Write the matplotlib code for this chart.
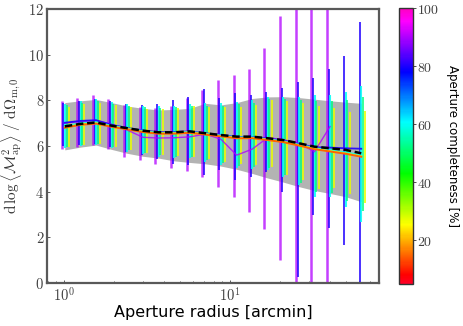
import numpy as np
import matplotlib
matplotlib.use("Agg")
import matplotlib.pyplot as plt
from matplotlib.colors import Normalize
from matplotlib.cm import ScalarMappable
from matplotlib.ticker import FixedLocator, FuncFormatter, LogLocator, NullFormatter

plt.rcParams['mathtext.fontset'] = 'cm'
plt.rcParams['font.family'] = ['DejaVu Sans']

nan = np.nan
# aperture radii (arcmin) of each group of measurements
radii = [0.968, 1.202, 1.492, 1.853, 2.30, 2.86, 3.55, 4.40, 5.47, 6.79,
         8.43, 10.5, 13.0, 16.1, 20.0, 24.9, 30.9, 38.3, 47.6, 59.1]

# completeness (%) of each series
comp_purple = 90
comp_blue = 80
comp_cyan = 60
comp_green = 52
comp_yellow = 27
comp_orange = 15

# error-bar centres and half-widths
purple_val = [6.92, 7.03, 7.13, 6.97, 6.67, 6.55, 6.43, 6.39, 6.49, 6.55,
              6.55, 6.45, 6.26, 6.32, 6.35, 6.00, 5.80, 6.50, nan, nan]
purple_err = [1.06, 1.06, 1.10, 1.10, 1.13, 1.15, 1.22, 1.37, 1.60, 1.90,
              2.33, 2.67, 3.13, 3.96, 5.35, 8.00, 9.00, 10.0, nan, nan]
blue_val = [6.95, 7.02, 7.08, 6.95, 6.80, 6.70, 6.62, 6.62, 6.65, 6.60,
            6.52, 6.41, 6.45, 6.63, 6.25, 4.55, 5.98, 5.88, 5.80, 5.70]
blue_err = [0.95, 0.96, 1.00, 1.00, 1.05, 1.10, 1.20, 1.40, 1.50, 1.88,
            1.57, 1.90, 1.80, 1.75, 2.28, 4.27, 3.00, 3.48, 4.14, 5.75]
cyan_val = [6.88, 6.98, 7.04, 6.92, 6.80, 6.70, 6.63, 6.62, 6.66, 6.58,
            6.52, 6.48, 6.50, 6.54, 6.40, 6.21, 6.00, 6.00, 5.85, 5.66]
cyan_err = [0.98, 0.98, 1.00, 1.00, 1.05, 1.05, 1.10, 1.15, 1.20, 1.30,
            1.35, 1.45, 1.50, 1.60, 1.75, 1.92, 2.23, 2.24, 2.53, 2.98]
green_val = [6.87, 6.97, 7.03, 6.90, 6.79, 6.69, 6.62, 6.61, 6.65, 6.57,
             6.51, 6.47, 6.50, 6.55, 6.38, 6.20, 5.98, 5.96, 5.80, 5.65]
green_err = [0.92, 0.92, 0.95, 0.95, 0.98, 1.00, 1.03, 1.08, 1.12, 1.20,
             1.26, 1.35, 1.40, 1.52, 1.66, 1.82, 2.00, 2.00, 2.20, 2.48]
yellow_val = [6.83, 6.95, 7.00, 6.88, 6.77, 6.67, 6.60, 6.60, 6.64, 6.57,
              6.50, 6.45, 6.48, 6.55, 6.35, 6.19, 5.93, 5.90, 5.70, 5.52]
yellow_err = [0.89, 0.90, 0.90, 0.92, 0.95, 0.97, 1.00, 1.05, 1.10, 1.15,
              1.20, 1.25, 1.30, 1.45, 1.62, 1.68, 1.80, 1.75, 1.80, 2.00]

# mean curves
mean_black = [6.86, 6.97, 7.03, 6.89, 6.78, 6.67, 6.60, 6.60, 6.64, 6.56,
              6.48, 6.41, 6.41, 6.34, 6.26, 6.12, 5.97, 5.90, 5.83, 5.68]
line_purple = [7.00, 7.08, 7.12, 6.95, 6.70, 6.38, 6.35, 6.36, 6.40, 6.52,
               6.30, 5.60, 5.86, 6.36, 6.28, 6.12, 5.75, 6.85, nan, nan]
line_blue = [7.02, 7.10, 7.13, 6.93, 6.79, 6.68, 6.61, 6.61, 6.64, 6.56,
             6.48, 6.40, 6.40, 6.33, 6.24, 6.09, 5.95, 5.93, 5.90, 5.88]
line_cyan = [6.88, 6.99, 7.04, 6.89, 6.77, 6.66, 6.58, 6.58, 6.62, 6.54,
             6.46, 6.38, 6.38, 6.30, 6.21, 6.06, 5.91, 5.81, 5.72, 5.60]
line_yellow = [6.82, 6.95, 7.00, 6.86, 6.75, 6.63, 6.56, 6.56, 6.60, 6.52,
               6.44, 6.36, 6.36, 6.28, 6.19, 6.04, 5.88, 5.78, 5.68, 5.55]
line_orange = [6.80, 6.93, 6.98, 6.84, 6.73, 6.61, 6.54, 6.54, 6.58, 6.50,
               6.42, 6.34, 6.34, 6.26, 6.17, 6.02, 5.86, 5.76, 5.66, 5.53]
band_lo = [5.83, 5.95, 6.04, 5.85, 5.68, 5.55, 5.47, 5.35, 5.28, 5.22,
           5.12, 4.98, 4.80, 4.60, 4.42, 4.22, 4.05, 3.92, 3.78, 3.56]
band_hi = [7.90, 7.98, 8.04, 7.90, 7.75, 7.65, 7.58, 7.60, 7.65, 7.87,
           7.80, 7.90, 8.08, 8.15, 8.16, 8.12, 8.05, 7.98, 7.92, 7.87]

yticks = [0, 2, 4, 6, 8, 10, 12]
cbar_ticks = [20, 40, 60, 80, 100]

cmap = plt.get_cmap('gist_rainbow')
norm = Normalize(vmin=5, vmax=100)

fig = plt.figure(figsize=(4.63, 3.26), dpi=100)
ax = fig.add_axes([0.1015, 0.1319, 0.7171, 0.8405])
cax = fig.add_axes([0.8618, 0.1288, 0.0302, 0.8466])

r = np.array(radii)
xl = r * 1.045

ax.fill_between(xl, band_lo, band_hi, color='0.70', lw=0, zorder=1)

series = [
    (purple_val, purple_err, comp_purple, 1.000, 1.8, 0.75),
    (blue_val, blue_err, comp_blue, 1.025, 1.2, 0.95),
    (cyan_val, cyan_err, comp_cyan, 1.047, 1.5, 0.85),
    (green_val, green_err, comp_green, 1.072, 1.3, 0.85),
    (yellow_val, yellow_err, comp_yellow, 1.105, 1.3, 0.9),
]
for val, err, c, off, lw, al in series:
    ax.errorbar(r * off, val, yerr=err, fmt='none', ecolor=cmap(norm(c)),
                elinewidth=lw, alpha=al, capsize=0, zorder=2)

for vals, c, lw, al in [(line_purple, comp_purple, 1.0, 0.8),
                        (line_blue, comp_blue, 1.3, 0.9),
                        (line_cyan, comp_cyan, 1.3, 0.9),
                        (line_yellow, comp_yellow, 1.3, 0.9),
                        (line_orange, comp_orange, 1.4, 1.0)]:
    ax.plot(xl, vals, color=cmap(norm(c)), lw=lw, alpha=al, zorder=3)

ax.plot(xl, mean_black, color='black', lw=1.8, ls=(0, (3, 1.5)), zorder=4)

ax.set_xscale('log')
ax.set_xlim(0.79, 79)
ax.set_ylim(0, 12)
ax.xaxis.set_major_locator(LogLocator(base=10))
ax.xaxis.set_major_formatter(FuncFormatter(lambda v, p: r'$10^{%d}$' % round(np.log10(v))))
ax.xaxis.set_minor_locator(LogLocator(base=10, subs=np.arange(2, 10)))
ax.xaxis.set_minor_formatter(NullFormatter())
ax.yaxis.set_major_locator(FixedLocator(yticks))
ax.yaxis.set_major_formatter(FuncFormatter(lambda v, p: r'$%d$' % v))
ax.tick_params(which='both', direction='in', length=2.5, width=0.7, colors='0.35',
               labelcolor='0.25', labelsize=10.5, pad=2)
ax.tick_params(which='minor', length=1.5)
for s in ax.spines.values():
    s.set_color('0.35')
    s.set_linewidth(1.6)

ax.set_xlabel('Aperture radius [arcmin]', fontsize=11.5, labelpad=1)
ax.set_ylabel(r'$\mathrm{d}\,\log\left\langle\mathcal{M}_{\mathrm{ap}}^{2}\right\rangle\ /\ \mathrm{d}\Omega_{\mathrm{m},0}$',
              fontsize=11, color='0.2', labelpad=3)

sm = ScalarMappable(norm=norm, cmap=cmap)
cb = fig.colorbar(sm, cax=cax)
cb.set_ticks(cbar_ticks)
cb.ax.yaxis.set_major_formatter(FuncFormatter(lambda v, p: r'$%d$' % v))
cb.ax.tick_params(direction='out', length=2, width=0.7, labelsize=10, pad=1, colors='0.3', labelcolor='0.25')
cb.outline.set_edgecolor('0.2')
cb.outline.set_linewidth(1.0)
cb.set_label('Aperture completeness [%]', rotation=270, fontsize=8.5, labelpad=14)

fig.savefig('out.png', dpi=100)
